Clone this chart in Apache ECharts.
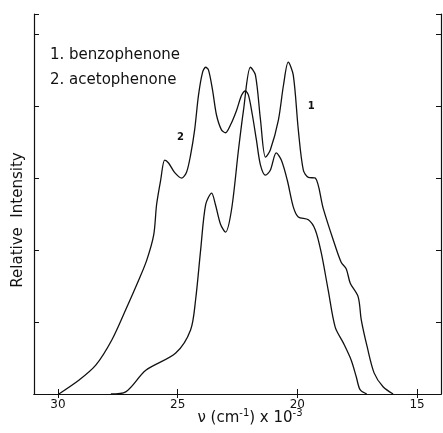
<!DOCTYPE html>
<html>
<head>
<meta charset="utf-8">
<script src="https://cdn.jsdelivr.net/npm/echarts@6/dist/echarts.min.js"></script>
<style>
    html, body { margin: 0; background: #fff; }
    #main { width: 443px; height: 433px; }
</style>
</head>
<body>
<div id="main"></div>
<script>
// wavenumber (cm-1 x 10^-3) and relative intensity
var benzoX = [27.79, 27.17, 26.33, 25.08, 24.46, 24.25, 24.04, 23.83, 23.58, 23.42, 23.21, 23.00, 22.75, 22.46, 22.25, 21.96, 21.75, 21.54, 21.33, 21.13, 20.79, 20.58, 20.38, 20.17, 19.96, 19.75, 19.54, 19.25, 18.92, 18.50, 18.17, 17.96, 17.79, 17.46, 17.33, 17.08, 16.79, 16.42, 16.00];
var benzoY = [0.00, 0.03, 0.33, 0.57, 0.89, 1.31, 2.00, 2.63, 2.79, 2.63, 2.36, 2.25, 2.56, 3.39, 3.94, 4.54, 4.43, 3.81, 3.29, 3.39, 3.81, 4.29, 4.61, 4.43, 3.67, 3.11, 3.01, 3.00, 2.58, 2.14, 1.83, 1.74, 1.54, 1.35, 1.03, 0.65, 0.29, 0.10, 0.00];

var acetoX = [29.96, 29.13, 28.42, 27.75, 27.17, 26.63, 26.29, 26.00, 25.88, 25.71, 25.54, 25.38, 25.13, 24.83, 24.63, 24.46, 24.29, 24.13, 23.96, 23.83, 23.71, 23.54, 23.38, 23.17, 23.00, 22.79, 22.54, 22.33, 22.17, 22.04, 21.88, 21.71, 21.54, 21.33, 21.13, 20.88, 20.67, 20.42, 20.17, 19.96, 19.54, 19.25, 19.00, 18.71, 18.42, 18.08, 17.75, 17.54, 17.38, 17.10];
var acetoY = [0.00, 0.19, 0.40, 0.75, 1.17, 1.58, 1.86, 2.21, 2.63, 2.97, 3.25, 3.21, 3.08, 3.00, 3.08, 3.32, 3.67, 4.15, 4.47, 4.54, 4.50, 4.22, 3.88, 3.67, 3.63, 3.74, 3.94, 4.15, 4.21, 4.15, 3.88, 3.53, 3.18, 3.04, 3.11, 3.35, 3.25, 2.97, 2.60, 2.46, 2.42, 2.28, 1.96, 1.44, 0.93, 0.71, 0.47, 0.24, 0.06, 0.00];

var xTicks = [15, 20, 25, 30];
// curve number tags: [wavenumber, intensity]
var tag1 = [19.42, 3.99];
var tag2 = [24.88, 3.57];

function pairs(xs, ys) {
    return xs.map(function(x, i) { return [x, ys[i]]; });
}

var myChart = echarts.init(document.getElementById('main'));
var ink = '#111';
var font = 'DejaVu Sans';

var lineBase = {
    type: 'line',
    smooth: 0.3,
    symbol: 'none',
    lineStyle: { color: ink, width: 1.3 },
    z: 3
};

function tag(text, pos) {
    return {
        symbol: 'circle',
        symbolSize: 1,
        itemStyle: { color: 'rgba(0,0,0,0)' },
        data: [{ coord: pos }],
        label: {
            show: true, position: 'inside', formatter: text,
            color: ink, fontFamily: font, fontSize: 10, fontWeight: 'bold'
        }
    };
}

var option = {
    backgroundColor: '#fff',
    animation: false,
    grid: { left: 34, right: 2, top: 14, bottom: 39 },
    xAxis: [{
        type: 'value', inverse: true, min: 14, max: 31,
        axisLine: { lineStyle: { color: ink, width: 1.2 } },
        axisTick: { inside: true, length: 5, customValues: xTicks, lineStyle: { color: ink } },
        axisLabel: { customValues: xTicks, color: ink, fontFamily: font, fontSize: 12, margin: 5 },
        splitLine: { show: false }
    }, {
        type: 'value', inverse: true, min: 14, max: 31, position: 'top',
        axisLine: { lineStyle: { color: ink, width: 1.2 } },
        axisTick: { inside: true, length: 4, customValues: xTicks, lineStyle: { color: ink } },
        axisLabel: { show: false },
        splitLine: { show: false }
    }],
    yAxis: [{
        type: 'value', min: 0, max: 5.28, interval: 1,
        axisLine: { show: true, lineStyle: { color: ink, width: 1.2 } },
        axisTick: { show: true, inside: true, length: 5, lineStyle: { color: ink } },
        axisLabel: { show: false },
        splitLine: { show: false }
    }, {
        type: 'value', min: 0, max: 5.28, interval: 1, position: 'right',
        axisLine: { show: true, lineStyle: { color: ink, width: 1.2 } },
        axisTick: { show: true, inside: true, length: 5, lineStyle: { color: ink } },
        axisLabel: { show: false },
        splitLine: { show: false }
    }],
    graphic: [{
        type: 'text', x: 50, y: 55,
        style: { text: '1. benzophenone', font: '15px "DejaVu Sans"', fill: ink, verticalAlign: 'middle' }
    }, {
        type: 'text', x: 50, y: 80,
        style: { text: '2. acetophenone', font: '15px "DejaVu Sans"', fill: ink, verticalAlign: 'middle' }
    }, {
        type: 'text', x: 18, y: 220, rotation: Math.PI / 2,
        style: { text: 'Relative  Intensity', font: '15px "DejaVu Sans"', fill: ink, align: 'center', verticalAlign: 'middle' }
    }, {
        type: 'text', x: 250, y: 418,
        style: {
            text: '{a|ν (cm}{s|-1}{a|) x 10}{s|-3}',
            align: 'center', verticalAlign: 'middle',
            rich: {
                a: { fontFamily: font, fontSize: 15, fill: ink, color: ink },
                s: { fontFamily: font, fontSize: 10, fill: ink, color: ink, padding: [0, 0, 10, 0] }
            }
        }
    }],
    series: [
        Object.assign({ name: 'benzophenone', data: pairs(benzoX, benzoY), markPoint: tag('1', tag1) }, lineBase),
        Object.assign({ name: 'acetophenone', data: pairs(acetoX, acetoY), markPoint: tag('2', tag2) }, lineBase)
    ]
};

myChart.setOption(option);
</script>
</body>
</html>
